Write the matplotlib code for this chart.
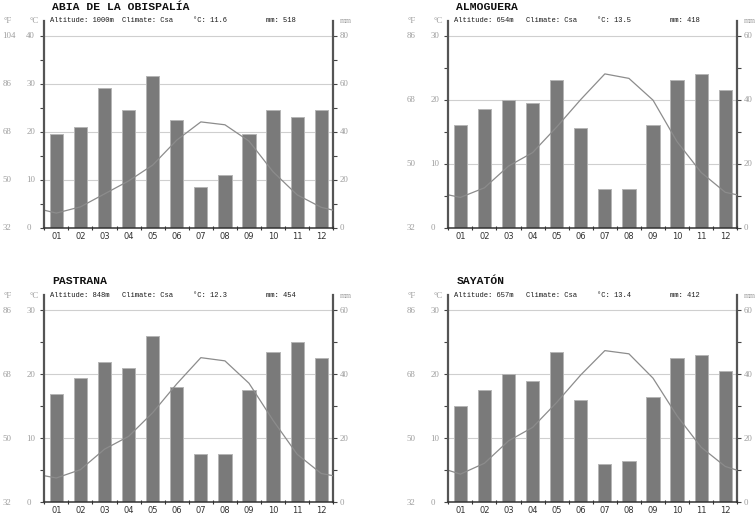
import matplotlib
matplotlib.use("Agg")
import matplotlib.pyplot as plt

MONTHS = ["01", "02", "03", "04", "05", "06", "07", "08", "09", "10", "11", "12"]

# monthly mean temperature (°C) and precipitation (mm)
ABIA_TEMP = [3.0, 4.3, 7.0, 9.7, 13.0, 18.2, 22.0, 21.4, 18.0, 11.6, 6.8, 4.2]
ABIA_RAIN = [39, 42, 58, 49, 63, 45, 17, 22, 39, 49, 46, 49]
ALMO_TEMP = [4.7, 6.2, 9.6, 11.7, 15.7, 20.0, 24.0, 23.3, 19.9, 13.4, 8.6, 5.5]
ALMO_RAIN = [32, 37, 40, 39, 46, 31, 12, 12, 32, 46, 48, 43]
PAST_TEMP = [3.8, 5.1, 8.3, 10.3, 14.0, 18.5, 22.6, 22.1, 18.6, 12.8, 7.5, 4.5]
PAST_RAIN = [34, 39, 44, 42, 52, 36, 15, 15, 35, 47, 50, 45]
SAYA_TEMP = [4.4, 6.1, 9.6, 11.7, 15.6, 19.9, 23.7, 23.2, 19.4, 13.5, 8.6, 5.6]
SAYA_RAIN = [30, 35, 40, 38, 47, 32, 12, 13, 33, 45, 46, 41]

NAMES = ["ABIA DE LA OBISPALÍA", "ALMOGUERA", "PASTRANA", "SAYATÓN"]
ALTITUDES = ["1000m", "654m", "848m", "657m"]
CLIMATES = ["Csa", "Csa", "Csa", "Csa"]
MEAN_TEMPS = ["11.6", "13.5", "12.3", "13.4"]
TOTAL_RAIN = ["518", "418", "454", "412"]
TEMP_MAX = [40, 30, 30, 30]

TEMPS = [ABIA_TEMP, ALMO_TEMP, PAST_TEMP, SAYA_TEMP]
RAINS = [ABIA_RAIN, ALMO_RAIN, PAST_RAIN, SAYA_RAIN]

FIG_W, FIG_H = 756, 514
PLOT_W, PLOT_H, EXTRA = 289, 192, 15
LEFTS = [44.3, 448.3]
ZEROS = [227.5, 502.3]

GRAY_TXT = "#9c9c9c"
SERIF = "Liberation Serif"
MONO = "Liberation Mono"
TICK_SIZE = 6.3
INFO_SIZE = 5.1


def c2f(c):
    return c * 1.8 + 32


def f2c(f):
    return (f - 32) / 1.8


def fxy(x, y):
    return x / FIG_W, 1 - y / FIG_H


fig = plt.figure(figsize=(FIG_W / 100, FIG_H / 100), dpi=100)

for i in range(4):
    lx = LEFTS[i % 2]
    zy = ZEROS[i // 2]
    ty = zy - PLOT_H
    rx = lx + PLOT_W
    tmax = TEMP_MAX[i]
    top = tmax * (PLOT_H + EXTRA) / PLOT_H

    ax = fig.add_axes([lx / FIG_W, 1 - zy / FIG_H, PLOT_W / FIG_W,
                       (PLOT_H + EXTRA) / FIG_H])
    ax2 = ax.twinx()
    ax.set_zorder(2)
    ax2.set_zorder(1)
    ax.patch.set_visible(False)

    x = list(range(1, 13))
    ax2.bar(x, RAINS[i], width=0.55, color="#7a7a7a", edgecolor="#b5b5b5",
            linewidth=0.7, zorder=2)
    edge = (TEMPS[i][0] + TEMPS[i][-1]) / 2
    ax.plot([0.5] + x + [12.5], [edge] + TEMPS[i] + [edge],
            color="#8c8c8c", lw=0.9)

    ax.set_xlim(0.5, 12.5)
    ax.set_ylim(0, top)
    ax2.set_ylim(0, 2 * top)

    # x axis
    ax.set_xticks(x, MONTHS)
    ax.set_xticks([m + 0.5 for m in range(0, 13)], minor=True)
    ax.tick_params(axis="x", which="major", length=0, pad=3,
                   labelsize=6.0, labelcolor="#333333")
    ax.tick_params(axis="x", which="minor", length=3.5, direction="inout",
                   color="#333333", width=0.8)

    # left °C axis
    cticks = list(range(0, tmax + 1, 10))
    ax.set_yticks(cticks, [str(c) for c in cticks])
    ax.set_yticks(list(range(5, tmax, 10)), minor=True)
    ax.tick_params(axis="y", which="both", direction="out", length=3,
                   color="#444444", width=0.8, pad=10, labelsize=TICK_SIZE,
                   labelcolor=GRAY_TXT)
    for t in ax.get_yticklabels():
        t.set_horizontalalignment("left")
        t.set_fontfamily(SERIF)

    # °F labels
    sec = ax.secondary_yaxis(-42 / PLOT_W, functions=(c2f, f2c))
    fticks = [c2f(c) for c in cticks]
    sec.set_yticks(fticks, [str(int(round(f))) for f in fticks])
    sec.spines["left"].set_visible(False)
    sec.tick_params(length=0, pad=0, labelsize=TICK_SIZE, labelcolor=GRAY_TXT)
    for t in sec.get_yticklabels():
        t.set_horizontalalignment("left")
        t.set_fontfamily(SERIF)

    # right mm axis
    mticks = list(range(0, 2 * tmax + 1, 20))
    ax2.set_yticks(mticks, [str(m) for m in mticks])
    ax2.set_yticks(list(range(10, 2 * tmax, 20)), minor=True)
    ax2.tick_params(axis="y", which="both", direction="out", length=3,
                    color="#444444", width=0.8, pad=1.5, labelsize=TICK_SIZE,
                    labelcolor=GRAY_TXT)
    for t in ax2.get_yticklabels():
        t.set_fontfamily(SERIF)
    ax2.set_axisbelow(True)
    ax2.yaxis.grid(True, which="major", color="#cfcfcf", lw=0.8)

    for s in ["top", "right"]:
        ax.spines[s].set_visible(False)
    for s in ["top", "left", "bottom"]:
        ax2.spines[s].set_visible(False)
    ax.spines["left"].set_color("#555555")
    ax.spines["left"].set_linewidth(1.6)
    ax2.spines["right"].set_color("#555555")
    ax2.spines["right"].set_linewidth(1.6)
    ax.spines["bottom"].set_color("#333333")
    ax.spines["bottom"].set_linewidth(1.1)

    # header texts
    fig.text(*fxy(lx + 8, ty - 29), NAMES[i], family=MONO, weight="bold",
             fontsize=8.2, va="center", color="#111111")
    info_y = ty - 14.5
    fig.text(*fxy(lx + 6, info_y), "Altitude: " + ALTITUDES[i], family=MONO,
             fontsize=INFO_SIZE, va="center", color="#1a1a1a")
    fig.text(*fxy(lx + 78, info_y), "Climate: " + CLIMATES[i], family=MONO,
             fontsize=INFO_SIZE, va="center", color="#1a1a1a")
    fig.text(*fxy(lx + 149, info_y), "°C: " + MEAN_TEMPS[i], family=MONO,
             fontsize=INFO_SIZE, va="center", color="#1a1a1a")
    fig.text(*fxy(lx + 222, info_y), "mm: " + TOTAL_RAIN[i], family=MONO,
             fontsize=INFO_SIZE, va="center", color="#1a1a1a")
    fig.text(*fxy(lx - 41, info_y), "°F", family=SERIF, fontsize=TICK_SIZE,
             va="center", color=GRAY_TXT)
    fig.text(*fxy(lx - 15, info_y), "°C", family=SERIF, fontsize=TICK_SIZE,
             va="center", color=GRAY_TXT)
    fig.text(*fxy(rx + 7, info_y), "mm", family=SERIF, fontsize=5.6,
             va="center", color=GRAY_TXT)

fig.savefig("out.png", dpi=100)
